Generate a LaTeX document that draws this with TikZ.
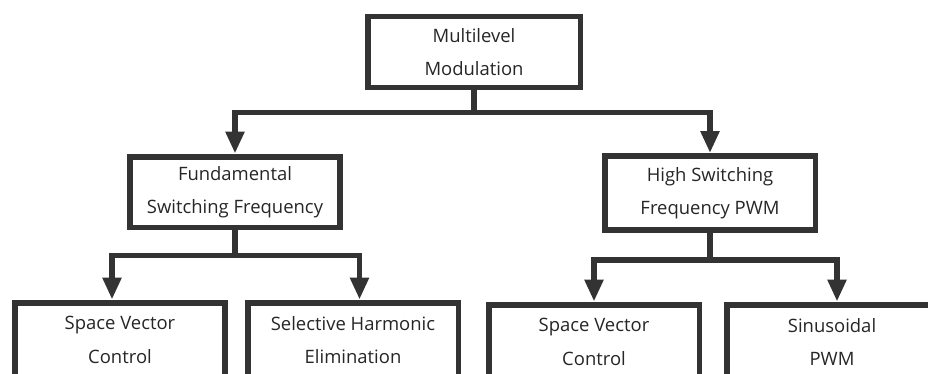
\documentclass[tikz,border=0pt]{standalone}
\usepackage{fontspec}
\setmainfont{Open Sans}
\usepackage{xcolor}
\usetikzlibrary{arrows.meta,positioning}
\definecolor{modink}{HTML}{333333}
\definecolor{modtext}{HTML}{262626}
\tikzset{
  modbox/.style={draw=modink, line width=3.4pt, fill=white, align=center,
    text=modtext, minimum width=4.22cm, minimum height=1.42cm, inner sep=0pt,
    font=\fontsize{10.5}{19}\selectfont},
  modlink/.style={draw=modink, line width=3.4pt,
    -{Triangle[length=0.44cm, width=0.36cm]}}
}

\begin{document}
\begin{tikzpicture}[x=0.02cm,y=-0.02cm]
\useasboundingbox (0,0) rectangle (928,373);
\clip (0,0) rectangle (928,373);
% root and second level
\node[modbox, minimum width=4.26cm] (root) at (474,52) {Multilevel\\Modulation};
\node[modbox] (fund) at (235,192) {Fundamental\\Switching Frequency};
\node[modbox, minimum height=1.48cm] (high) at (710,193) {High Switching\\Frequency PWM};
% leaves, cut by the lower edge
\foreach \nm/\xx/\yy/\lab in {%
   svcA/120/340/{Space Vector\\Control},
   she/353/340/{Selective Harmonic\\Elimination},
   svcB/594/342/{Space Vector\\Control},
   spwm/832/342/{Sinusoidal\\PWM}}{
   \node[modbox, minimum height=1.5cm] (\nm) at (\xx,\yy) {\lab};
}
% connectors
\draw[modlink] (root.south) -- ++(0,22) -| (fund.north);
\draw[modlink] (root.south) -- ++(0,22) -| (high.north);
\draw[modlink] (fund.south) -- ++(0,25) -| ([xshift=-0.16cm]svcA.north);
\draw[modlink] (fund.south) -- ++(0,25) -| ([xshift=0.13cm]she.north);
\draw[modlink] (high.south) -- ++(0,27) -| (svcB.north);
\draw[modlink] (high.south) -- ++(0,27) -| ([xshift=0.1cm]spwm.north);
\end{tikzpicture}
\end{document}
